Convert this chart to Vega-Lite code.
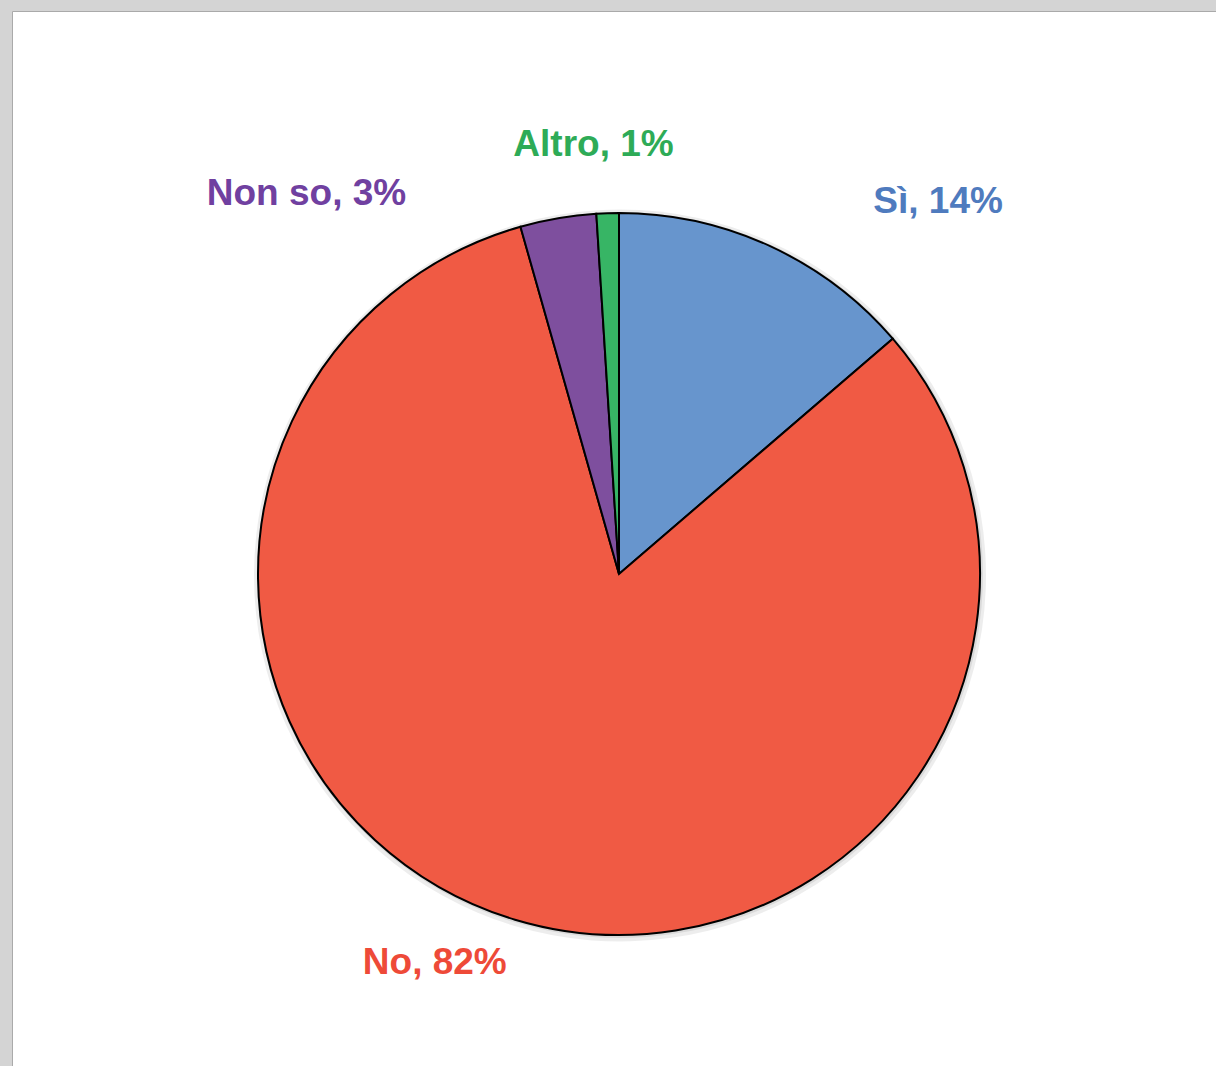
{
  "$schema": "https://vega.github.io/schema/vega-lite/v6.json",
  "width": 1204,
  "height": 1055,
  "autosize": {"type": "none"},
  "padding": {"left": 12, "top": 11, "right": 0, "bottom": 0},
  "background": "#d4d4d4",
  "view": {"fill": "#ffffff", "stroke": "#aaaaaa", "strokeWidth": 1},
  "config": {"view": {"fill": "#ffffff", "stroke": "#aaaaaa", "strokeWidth": 1}},
  "data": {
    "values": [
      {"cat": "Sì", "value": 13.7, "ord": 1, "label": "Sì, 14%"},
      {"cat": "No", "value": 81.9, "ord": 2, "label": "No, 82%"},
      {"cat": "Non so", "value": 3.4, "ord": 3, "label": "Non so, 3%"},
      {"cat": "Altro", "value": 1.0, "ord": 4, "label": "Altro, 1%"}
    ]
  },
  "layer": [
    {
      "mark": {"type": "arc", "x": {"expr": "width/2+6"}, "y": {"expr": "height/2+37"}, "radius": 366, "fill": "#000000", "fillOpacity": 0.07, "stroke": null},
      "encoding": {
        "theta": {"field": "value", "type": "quantitative", "stack": true},
        "order": {"field": "ord", "type": "quantitative"}
      }
    },
    {
      "mark": {"type": "arc", "x": {"expr": "width/2+6"}, "y": {"expr": "height/2+36.5"}, "radius": 363, "fill": "#000000", "fillOpacity": 0.08, "stroke": null},
      "encoding": {
        "theta": {"field": "value", "type": "quantitative", "stack": true},
        "order": {"field": "ord", "type": "quantitative"}
      }
    },
    {
      "mark": {"type": "arc", "x": {"expr": "width/2+5"}, "y": {"expr": "height/2+35.5"}, "radius": 361, "stroke": "#000000", "strokeWidth": 2},
      "encoding": {
        "theta": {"field": "value", "type": "quantitative", "stack": true},
        "order": {"field": "ord", "type": "quantitative"},
        "color": {
          "field": "cat",
          "type": "nominal",
          "scale": {"domain": ["Sì", "No", "Non so", "Altro"], "range": ["#6795CD", "#F05A44", "#7E4F9E", "#37B565"]},
          "legend": null
        }
      }
    },
    {
      "mark": {"type": "text", "x": {"expr": "width/2+5"}, "y": {"expr": "height/2+35.5"}, "radius": 410, "dx": 148, "dy": 1, "fontSize": 37, "fontWeight": "bold", "font": "Liberation Sans", "align": "center", "baseline": "middle", "fill": "#4F7BBE"},
      "encoding": {
        "theta": {"field": "value", "type": "quantitative", "stack": true},
        "order": {"field": "ord", "type": "quantitative"},
        "text": {"condition": {"test": "datum.cat === 'Sì'", "field": "label"}, "value": ""}
      }
    },
    {
      "mark": {"type": "text", "x": {"expr": "width/2+5"}, "y": {"expr": "height/2+35.5"}, "radius": 400, "dx": -69, "dy": 6, "fontSize": 37, "fontWeight": "bold", "font": "Liberation Sans", "align": "center", "baseline": "middle", "fill": "#EE4A38"},
      "encoding": {
        "theta": {"field": "value", "type": "quantitative", "stack": true},
        "order": {"field": "ord", "type": "quantitative"},
        "text": {"condition": {"test": "datum.cat === 'No'", "field": "label"}, "value": ""}
      }
    },
    {
      "mark": {"type": "text", "x": {"expr": "width/2+5"}, "y": {"expr": "height/2+35.5"}, "radius": 400, "dx": -245, "dy": 14, "fontSize": 37, "fontWeight": "bold", "font": "Liberation Sans", "align": "center", "baseline": "middle", "fill": "#7040A0"},
      "encoding": {
        "theta": {"field": "value", "type": "quantitative", "stack": true},
        "order": {"field": "ord", "type": "quantitative"},
        "text": {"condition": {"test": "datum.cat === 'Non so'", "field": "label"}, "value": ""}
      }
    },
    {
      "mark": {"type": "text", "x": {"expr": "width/2+5"}, "y": {"expr": "height/2+35.5"}, "radius": 430, "dx": -12, "dy": 1, "fontSize": 37, "fontWeight": "bold", "font": "Liberation Sans", "align": "center", "baseline": "middle", "fill": "#2EAB57"},
      "encoding": {
        "theta": {"field": "value", "type": "quantitative", "stack": true},
        "order": {"field": "ord", "type": "quantitative"},
        "text": {"condition": {"test": "datum.cat === 'Altro'", "field": "label"}, "value": ""}
      }
    }
  ]
}
